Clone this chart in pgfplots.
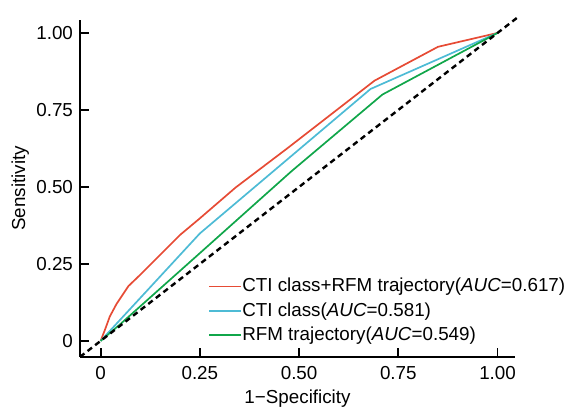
\documentclass[border=0pt]{standalone}
\usepackage{fontspec}
\setmainfont{Liberation Sans}
\usepackage{pgfplots}
\pgfplotsset{compat=1.18}
\definecolor{cred}{HTML}{E64B35}
\definecolor{cblue}{HTML}{4DBBD5}
\definecolor{cgreen}{HTML}{10A64A}

\begin{document}
\begin{tikzpicture}[font=\fontsize{9.4pt}{11pt}\selectfont]
\begin{axis}[name=ax,scale only axis,width=217.5pt,height=168.3pt,
  xmin=-0.052,xmax=1.044,ymin=-0.051,ymax=1.042,clip=false,
  axis x line*=bottom,axis y line*=left,
  axis line style={-,line width=0.9pt},
  tick align=inside,major tick length=4.5pt,
  tick style={line width=0.9pt,black},
  xtick={0,0.25,0.5,0.75,1},xticklabels={0,0.25,0.50,0.75,1.00},
  ytick={0,0.25,0.5,0.75,1},yticklabels={0,0.25,0.50,0.75,1.00},
  /pgf/number format/assume math mode=true,
  tick label style={font=\fontsize{9.4pt}{11pt}\selectfont},
  xticklabel style={yshift=-1.5pt},
  xlabel={1−Specificity},ylabel={Sensitivity},
  xlabel style={at={(axis description cs:0.5,0)},anchor=north,yshift=-13pt},
  ylabel style={at={([xshift=-22pt]axis description cs:0,0.5)},anchor=south},
  legend style={at={(axis cs:0.271,0.2175)},anchor=north west,draw=none,fill=none,
    inner sep=0pt,column sep=0pt,
    nodes={inner xsep=0pt,inner ysep=0pt,text height=8.8pt,text depth=3.4pt,
      font=\fontsize{9.4pt}{11pt}\selectfont}},
  legend cell align=left,
  legend image code/.code={\draw[#1] (0pt,0pt) -- (16pt,0pt);},
]
\addplot[cred,line width=0.85pt] coordinates {(0,0) (0.012,0.04) (0.023,0.079) (0.04,0.12) (0.07,0.178) (0.1,0.215) (0.2,0.344) (0.25,0.398) (0.34,0.498) (0.47,0.625) (0.69,0.845) (0.85,0.955) (1,1)};
\addlegendentry{CTI class+RFM trajectory(\textit{AUC}=0.617)}
\addplot[cblue,line width=0.85pt] coordinates {(0,0) (0.25,0.349) (0.68,0.818) (1,1)};
\addlegendentry{CTI class(\textit{AUC}=0.581)}
\addplot[cgreen,line width=0.85pt] coordinates {(0,0) (0.05,0.055) (0.25,0.285) (0.48,0.55) (0.71,0.80) (1,1)};
\addlegendentry{RFM trajectory(\textit{AUC}=0.549)}
\addplot[black,line width=1.2pt,dash pattern=on 2.8pt off 2pt,forget plot] coordinates {(-0.052,-0.052) (1.05,1.05)};
\end{axis}
\pgfresetboundingbox
\useasboundingbox ([xshift=-40pt,yshift=-26.65pt]ax.south west) rectangle ([xshift=25.5pt,yshift=10pt]ax.north east);
\end{tikzpicture}
\end{document}
